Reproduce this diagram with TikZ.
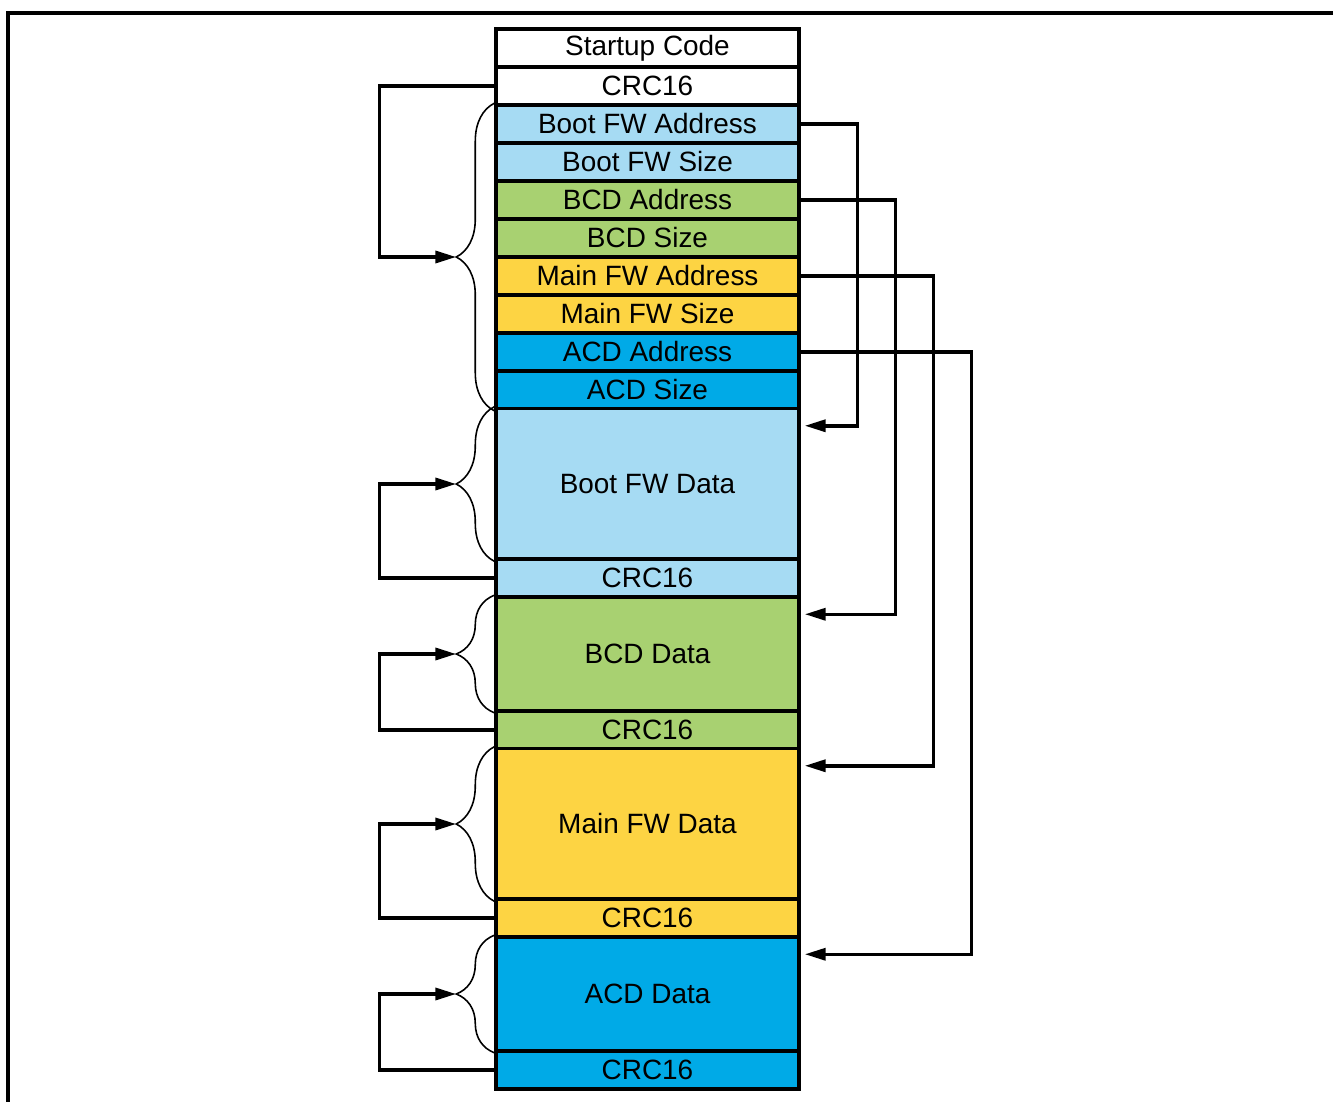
\documentclass[tikz,border=0pt]{standalone}
\usepackage{fontspec}
\setmainfont{Liberation Sans}
\usepackage{xcolor}
\usetikzlibrary{arrows.meta,positioning,calc,decorations.pathreplacing}
\definecolor{bootblue}{HTML}{A6DBF3}
\definecolor{bcdgreen}{HTML}{A8D171}
\definecolor{mainyellow}{HTML}{FDD443}
\definecolor{acdblue}{HTML}{00AAE7}

\begin{document}
\begin{tikzpicture}[
    x=0.02cm, y=-0.02cm,
    cell/.style={draw, line width=2pt, minimum width=6.06cm, minimum height=0.76cm,
      inner sep=0pt, font=\fontsize{15.9}{18}\selectfont},
    datacell/.style={cell, minimum height=3.02cm},
    shortdata/.style={cell, minimum height=2.28cm},
    arrow/.style={-{Triangle[length=4.2mm,width=2.4mm]}, line width=2pt},
    brace/.style={decorate, decoration={brace, amplitude=0.76cm, aspect=0.5}, line width=0.9pt}
  ]
    \useasboundingbox (0,0) rectangle (1333,1102);
    \draw[line width=2pt] (1333,13) -- (8,13) -- (8,1102);

    % header
    \node[cell] (startup) at (647.5,48) {Startup Code};
    \node[cell] (hdrCrc) at (647.5,86) {CRC16};
    \node[cell, fill=bootblue] (bootAddr) at (647.5,124) {Boot FW Address};
    \node[cell, fill=bootblue] (bootSize) at (647.5,162) {Boot FW Size};
    \node[cell, fill=bcdgreen] (bcdAddr) at (647.5,200) {BCD Address};
    \node[cell, fill=bcdgreen] (bcdSize) at (647.5,238) {BCD Size};
    \node[cell, fill=mainyellow] (mainAddr) at (647.5,276) {Main FW Address};
    \node[cell, fill=mainyellow] (mainSize) at (647.5,314) {Main FW Size};
    \node[cell, fill=acdblue] (acdAddr) at (647.5,352) {ACD Address};
    \node[cell, fill=acdblue] (acdSize) at (647.5,390) {ACD Size};

    % images
    \node[datacell, fill=bootblue] (bootData) at (647.5,484) {Boot FW Data};
    \node[cell, fill=bootblue] (bootCrc) at (647.5,578) {CRC16};
    \node[shortdata, fill=bcdgreen] (bcdData) at (647.5,654) {BCD Data};
    \node[cell, fill=bcdgreen] (bcdCrc) at (647.5,730) {CRC16};
    \node[datacell, fill=mainyellow] (mainData) at (647.5,824) {Main FW Data};
    \node[cell, fill=mainyellow] (mainCrc) at (647.5,918) {CRC16};
    \node[shortdata, fill=acdblue] (acdData) at (647.5,994) {ACD Data};
    \node[cell, fill=acdblue] (acdCrc) at (647.5,1070) {CRC16};

    % braces
    \draw[brace] (acdSize.south west) -- (bootAddr.north west);
    \draw[brace] (bootData.south west) -- (bootData.north west);
    \draw[brace] (bcdData.south west) -- (bcdData.north west);
    \draw[brace] (mainData.south west) -- (mainData.north west);
    \draw[brace] (acdData.south west) -- (acdData.north west);
    \coordinate (hdrTip) at ($(bootAddr.north west)!0.5!(acdSize.south west)+(-38,0)$);
    \coordinate (bootTip) at ($(bootData.west)+(-38,0)$);
    \coordinate (bcdTip) at ($(bcdData.west)+(-38,0)$);
    \coordinate (mainTip) at ($(mainData.west)+(-38,0)$);
    \coordinate (acdTip) at ($(acdData.west)+(-38,0)$);

    % crc loops
    \draw[arrow] (hdrCrc.west) -- ++(-115,0) |- (hdrTip);
    \draw[arrow] (bootCrc.west) -- ++(-115,0) |- (bootTip);
    \draw[arrow] (bcdCrc.west) -- ++(-115,0) |- (bcdTip);
    \draw[arrow] (mainCrc.west) -- ++(-115,0) |- (mainTip);
    \draw[arrow] (acdCrc.west) -- ++(-115,0) |- (acdTip);

    % address pointers
    \draw[arrow] (bootAddr.east) -- ++(57,0) |- ($(bootData.north east)+(4,19)$);
    \draw[arrow] (bcdAddr.east) -- ++(95,0) |- ($(bcdData.north east)+(4,19)$);
    \draw[arrow] (mainAddr.east) -- ++(133,0) |- ($(mainData.north east)+(4,19)$);
    \draw[arrow] (acdAddr.east) -- ++(171,0) |- ($(acdData.north east)+(4,19)$);
  \end{tikzpicture}
\end{document}
